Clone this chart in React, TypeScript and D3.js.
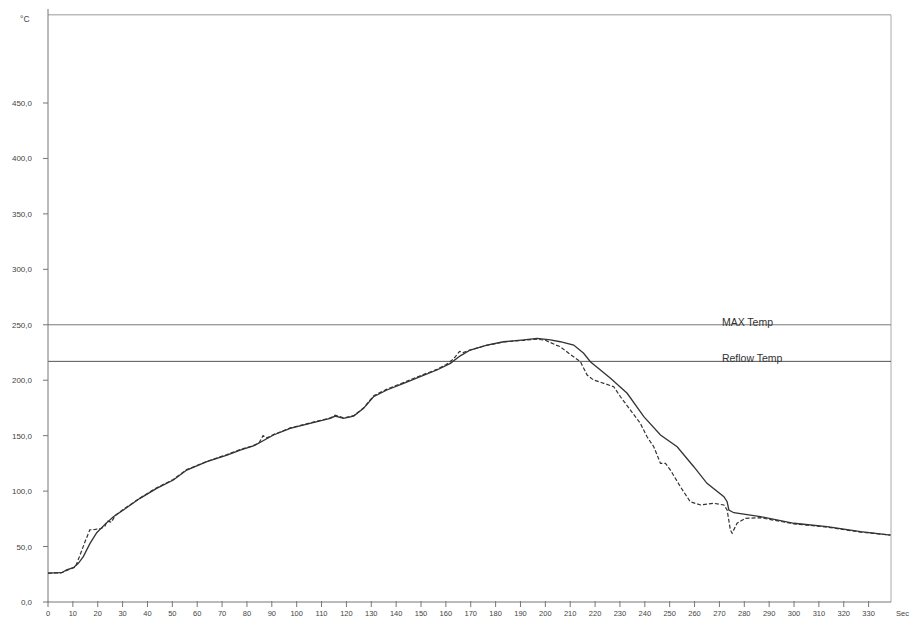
import * as d3 from "d3";

// solid trace (sec, °C)
const solidTime = [
  0, 5.5, 7.5, 10.2, 12.2, 14.2, 16.9, 19.6, 22.9, 26.3, 30.3, 37, 43.7, 50.4,
  55.8, 63.9, 72, 77.3, 82.6, 90.7, 97.4, 105.4, 113.5, 115.5, 118.8, 122.9,
  126.9, 130.9, 136.3, 143, 149.7, 156.4, 161.8, 165.8, 169.8, 176.5, 183.2,
  191.3, 196.7, 202, 206, 211.4, 215.4, 218.1, 226.2, 232.9, 239.6, 246.3, 253,
  259.7, 265, 271.8, 273.1, 273.8, 275.8, 286.5, 300, 313.3, 326.8, 338.8,
];
const solidTemp = [
  26, 26.4, 28.9, 31, 34.9, 40.9, 52.9, 62.5, 70, 76.9, 83, 93.5, 102.5, 110,
  119, 126.5, 132.5, 137, 140.7, 150.6, 156.6, 161.1, 165.6, 167.7, 165.6,
  167.7, 174.6, 185.1, 191.2, 197.2, 203.2, 209.2, 215.2, 222, 227.2, 231.7,
  234.7, 236.3, 237.8, 236.3, 234.7, 231.7, 224.3, 216.7, 201.7, 188.2, 167.1,
  150.6, 140, 122, 107, 95, 90.4, 83, 80.5, 77, 71, 68, 63.4, 60.4,
];

// dashed trace (sec, °C)
const dashTime = [
  0, 5.5, 8, 11, 13, 15, 16.8, 19, 21.5, 22.8, 23.8, 25.5, 27, 30.3, 37,
  43.7, 50.4, 55.8, 63.9, 72, 77.3, 82.6, 85, 86.5, 88, 90.7, 97.4, 105.4,
  113.5, 115.5, 118.8, 122.9, 126.9, 129.5, 131, 136.3, 143, 149.7, 156.4,
  160, 163, 165.5, 167, 170, 176.5, 183.2, 191.3, 196.7, 200, 204, 206, 209.4,
  214.1, 216.8, 219.4, 223.5, 227.5, 230.2, 234.2, 238.2, 240.9, 243.6, 246.3,
  248.3, 250.3, 254.3, 258.3, 262.4, 267.7, 271.8, 273.1, 274.4, 275.1, 277.1,
  280.5, 286.5, 300, 313.3, 326.8, 338.8,
];
const dashTemp = [
  26, 26.4, 29, 31.5, 43, 55, 65, 65.5, 66.5, 68, 73, 72, 78, 83.5, 93.8,
  103, 110.5, 119.5, 126.8, 133, 137.5, 141, 144, 150, 148, 151, 157, 161.5,
  166, 168.5, 166, 168, 175, 182, 186, 192, 198, 204, 209.8, 214, 219, 226,
  225, 227.5, 231.5, 234.5, 236, 237, 236, 232, 230.2, 224.3, 216.7, 204.7,
  200.2, 197.2, 194.1, 185.1, 173.1, 161.1, 149, 140, 125, 125, 119, 104,
  90.4, 87.5, 89, 87.5, 83, 65, 62, 71, 75.5, 76, 70.5, 67.5, 63, 60.4,
];

const xTicks = [
  0, 10, 20, 30, 40, 50, 60, 70, 80, 90, 100, 110, 120, 130, 140, 150, 160,
  170, 180, 190, 200, 210, 220, 230, 240, 250, 260, 270, 280, 290, 300, 310,
  320, 330,
];
const yTicks = [0, 50, 100, 150, 200, 250, 300, 350, 400, 450];

const limitNames = ["MAX Temp", "Reflow Temp"];
const limitValues = [250, 217];

const W = 910;
const H = 619;
const font = "'Liberation Sans', Arial, sans-serif";

export default function App() {
  const x = d3.scaleLinear().domain([0, 339]).range([48, 891]);
  const y = d3.scaleLinear().domain([0, 450]).range([602, 103]);
  const yTop = 529.5;

  const solidPath = d3
    .line<number>()
    .x((_, i) => x(solidTime[i]))
    .y((d) => y(d))(solidTemp);
  const dashPath = d3
    .line<number>()
    .x((_, i) => x(dashTime[i]))
    .y((d) => y(d))(dashTemp);

  const fmt = (v: number) => v.toFixed(1).replace(".", ",");

  return (
    <svg
      width={W}
      height={H}
      style={{ position: "absolute", left: 0, top: 0, background: "#fff" }}
      fontFamily={font}
    >
      {/* frame */}
      <line x1={x(0)} x2={x(339)} y1={y(yTop)} y2={y(yTop)} stroke="#999" strokeWidth={1} />
      <line x1={x(339)} x2={x(339)} y1={y(yTop)} y2={y(0)} stroke="#aaa" strokeWidth={1} />

      {/* limit lines */}
      {limitValues.map((v, i) => (
        <g key={limitNames[i]}>
          <line
            x1={x(0)}
            x2={x(339)}
            y1={y(v)}
            y2={y(v)}
            stroke={i === 0 ? "#7a7a7a" : "#555"}
            strokeWidth={1}
          />
          <text x={x(271)} y={y(v) + 1} fontSize={10.5} fill="#333">
            {limitNames[i]}
          </text>
        </g>
      ))}

      {/* y axis */}
      <line x1={x(0)} x2={x(0)} y1={9} y2={y(0)} stroke="#777" strokeWidth={1} />
      {yTicks.map((t) => (
        <g key={t}>
          <line x1={x(0) - 5} x2={x(0)} y1={y(t)} y2={y(t)} stroke="#777" />
          <text x={32} y={y(t) + 3} fontSize={8} textAnchor="end" fill="#444">
            {fmt(t)}
          </text>
        </g>
      ))}
      <text x={20} y={22} fontSize={8.5} fill="#444">
        °C
      </text>

      {/* x axis */}
      <line x1={x(0)} x2={x(339)} y1={y(0)} y2={y(0)} stroke="#777" strokeWidth={1} />
      {xTicks.map((t) => (
        <g key={t}>
          <line x1={x(t)} x2={x(t)} y1={y(0) - 1} y2={y(0) + 5} stroke="#777" />
          <text x={x(t)} y={616} fontSize={7.5} textAnchor="middle" fill="#444">
            {t}
          </text>
        </g>
      ))}
      <text x={896} y={616} fontSize={7.5} fill="#444">
        Sec
      </text>

      {/* traces */}
      <path d={solidPath ?? ""} fill="none" stroke="#333" strokeWidth={1.3} />
      <path
        d={dashPath ?? ""}
        fill="none"
        stroke="#333"
        strokeWidth={1.2}
        strokeDasharray="4,2"
      />
    </svg>
  );
}
